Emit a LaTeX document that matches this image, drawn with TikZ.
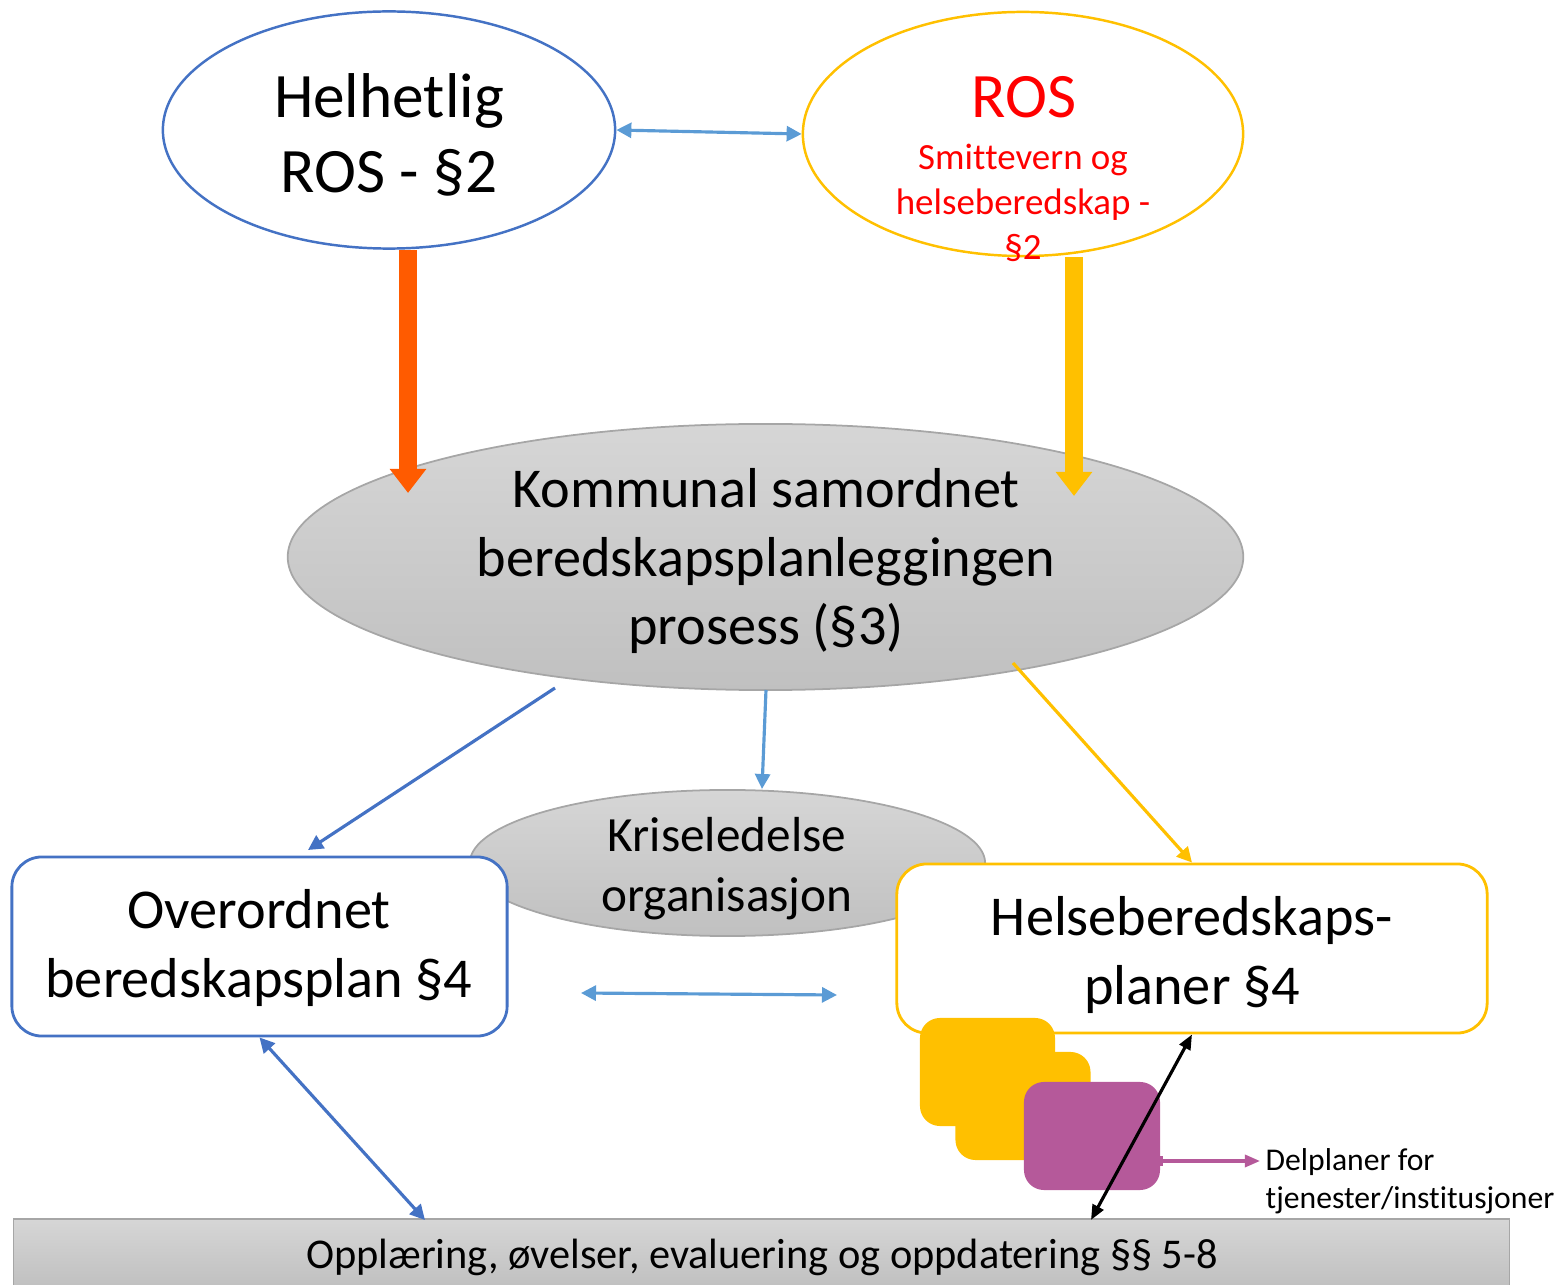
\documentclass[tikz,border=0pt]{standalone}
\usepackage{fontspec}
\setmainfont{Carlito}[Ligatures=CommonOff]
\usetikzlibrary{shapes.geometric,arrows.meta}
\definecolor{cblue}{HTML}{4472C4}
\definecolor{lblue}{HTML}{5B9BD5}
\definecolor{cyel}{HTML}{FFC000}
\definecolor{corg}{HTML}{FF5B00}
\definecolor{cpurp}{HTML}{B5599A}
\definecolor{gtop}{HTML}{D6D6D6}
\definecolor{gbot}{HTML}{C0C0C0}
\definecolor{gedge}{HTML}{A6A6A6}
\tikzset{ctip/.tip={Triangle[length=0.15cm,width=0.15cm]},
  ktip/.tip={Triangle[length=0.15cm,width=0.12cm]}}
\begin{document}
\begin{tikzpicture}[x=0.01cm,y=-0.01cm,
  ell/.style={ellipse, inner sep=0pt, line width=0.7pt, fill=white},
  grayell/.style={ellipse, inner sep=0pt, draw=gedge, line width=0.5pt, top color=gtop, bottom color=gbot},
  box/.style={rectangle, rounded corners=0.3cm, fill=white, line width=0.8pt, inner sep=0pt},
  sq/.style={rectangle, rounded corners=0.2cm, inner sep=0pt, minimum width=1.35cm, minimum height=1.08cm},
  conn/.style={line width=0.9pt},
  big/.style={font=\fontsize{18}{21.5}\selectfont, align=center},
  mid/.style={font=\fontsize{16}{19.4}\selectfont, align=center}
]
\useasboundingbox (0,0) rectangle (1562,1285);

% top ellipses
\node[ell, draw=cblue, minimum width=4.52cm, minimum height=2.37cm] (helh) at (389,130) {};
\node[ell, draw=cyel, minimum width=4.40cm, minimum height=2.44cm] (ros) at (1023,134) {};
\node[big] (thelh) at (389,135) {Helhetlig\\ROS - §2};
\node[big, text=red] (tros) at (1024,97) {ROS};
\node[font=\fontsize{10.5}{12.8}\selectfont, align=center, text=red] (tros2) at (1023,203) {Smit\kern0pt tevern og\\helseberedskap -\\§2};

\draw[conn, lblue, {ctip}-{ctip}] (helh.east) -- (ros.west);

% big gray ellipse
\node[grayell, minimum width=9.55cm, minimum height=2.66cm] (proc) at (765.5,557) {};
\node[font=\fontsize{16}{19.5}\selectfont, align=center] (tproc) at (766,561) {Kommunal samordnet\\beredskapsplanleggingen\\prosess (§3)};

% thick arrows
\coordinate (o1) at (408,250);
\coordinate (o2) at (408,493);
\coordinate (y1) at (1074,257);
\coordinate (y2) at (1074,496);
\draw[corg, line width=0.18cm, -{Triangle[length=0.24cm,width=0.35cm]}] (o1) -- (o2);
\draw[cyel, line width=0.18cm, -{Triangle[length=0.24cm,width=0.35cm]}] (y1) -- (y2);

% crisis ellipse
\node[grayell, minimum width=5.15cm, minimum height=1.46cm] (kris) at (727.5,863) {};
\node[font=\fontsize{14}{17.1}\selectfont, align=center] (tkris) at (727,869) {Kriseledelse\\organisasjon};

% boxes
\node[box, draw=cblue, minimum width=4.95cm, minimum height=1.79cm] (over) at (259.5,946.5) {};
\node[mid] (tover) at (259,948) {Overordnet\\beredskapsplan §4};
\node[box, draw=cyel, minimum width=5.90cm, minimum height=1.69cm] (helse) at (1192,948.5) {};
\node[mid] (thelse) at (1192,955) {Helseberedskaps-\\planer §4};

% squares
\node[sq, fill=cyel] (sq1) at (987.5,1072) {};
\node[sq, fill=cyel] (sq2) at (1023,1106) {};
\node[sq, fill=cpurp, minimum width=1.36cm] (sq3) at (1092,1136) {};

% bottom bar
\node[rectangle, draw=gedge, line width=0.5pt, top color=gtop, bottom color=gbot, minimum width=14.95cm, minimum height=0.68cm, inner sep=0pt] (bar) at (761.5,1253) {};
\node[font=\fontsize{12.05}{14.4}\selectfont] (tbar) at (762,1257) {Opplæring, øvelser, evaluering og oppdatering §§ 5-8};

% thin connectors
\coordinate (p1) at (555,688);
\coordinate (p2) at (308,850);
\draw[conn, cblue, -{ctip}] (p1) -- (p2);
\coordinate (k1) at (766,690);
\coordinate (k2) at (762,789);
\draw[conn, lblue, -{ctip}] (k1) -- (k2);
\coordinate (h1) at (1013,663);
\draw[conn, cyel, -{ctip}] (h1) -- (helse.north);
\coordinate (m1) at (581,993);
\coordinate (m2) at (837,995);
\draw[conn, lblue, {ctip}-{ctip}] (m1) -- (m2);
\coordinate (b1) at (425,1220);
\draw[conn, cblue, {ctip}-{ctip}] (over.south) -- (b1);
\coordinate (b2) at (1091,1220);
\draw[conn, black, {ktip}-{ktip}] (helse.south) -- (b2);
\coordinate (d1) at (1160,1161);
\coordinate (d2) at (1260,1161);
\draw[conn, cpurp, {Bar[width=0.1cm]}-{ktip}] (d1) -- (d2);
\node[font=\fontsize{9}{10.8}\selectfont, align=left, anchor=west, inner xsep=0pt] (tdel) at (1265,1181) {Delplaner for\\tjenester/institusjoner};
\end{tikzpicture}
\end{document}
